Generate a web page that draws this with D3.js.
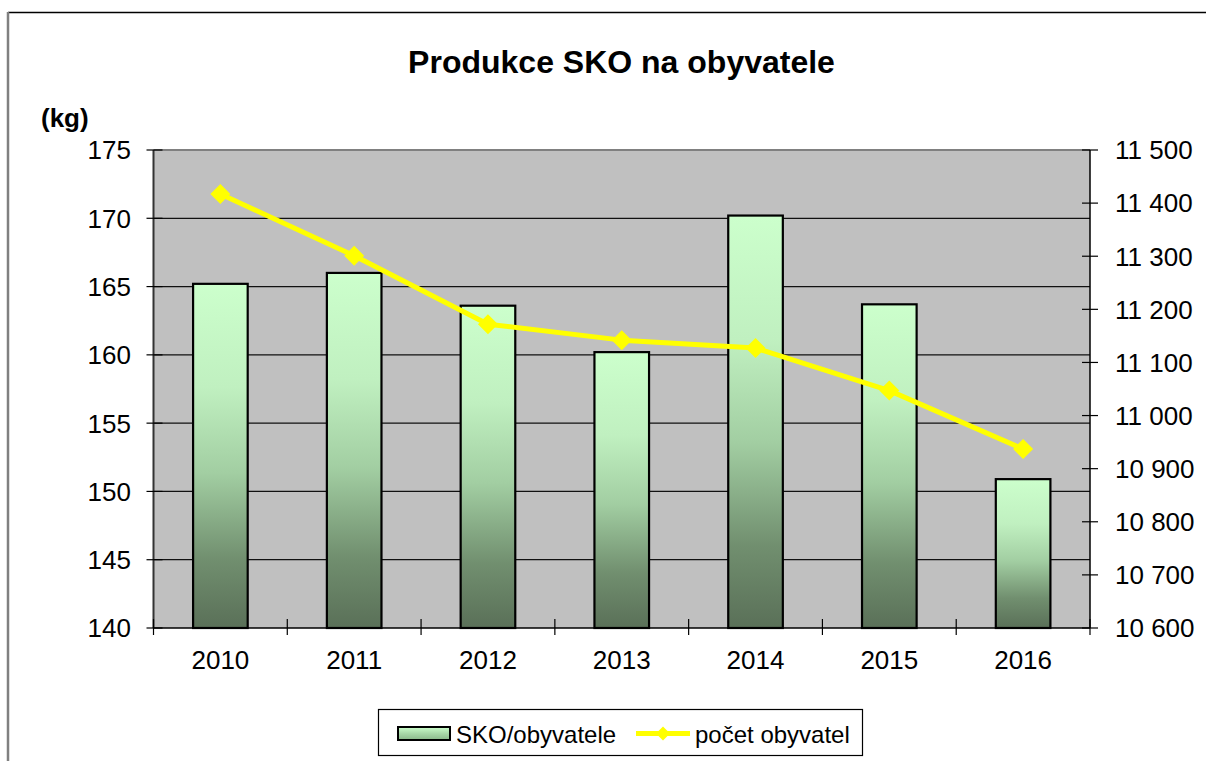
<!DOCTYPE html>
<html><head><meta charset="utf-8">
<script src="https://cdn.jsdelivr.net/npm/d3@7"></script>
<style>body{margin:0;background:#fff}svg{display:block;font-family:"Liberation Sans",Arial,sans-serif}</style>
</head><body>
<script>
const years = ["2010","2011","2012","2013","2014","2015","2016"];
const skoPerCapita = [165.2, 166.0, 163.6, 160.2, 170.2, 163.7, 150.9];
const population = [11417, 11301, 11172, 11142, 11127, 11047, 10937];
const leftTicks = [140,145,150,155,160,165,170,175];
const rightTicks = [10600,10700,10800,10900,11000,11100,11200,11300,11400,11500];

const W=1206,H=761;
const svg=d3.select("body").append("svg").attr("width",W).attr("height",H);
const m={l:153.5,r:1090,t:150,b:628};

// outer border
svg.append("line").attr("x1",8).attr("x2",W).attr("y1",12.5).attr("y2",12.5).attr("stroke","#000").attr("stroke-width",1.5);
svg.append("line").attr("x1",8).attr("x2",8).attr("y1",12).attr("y2",H).attr("stroke","#808080").attr("stroke-width",2.5);

const defs=svg.append("defs");
const g=defs.append("linearGradient").attr("id","barg").attr("x1",0).attr("y1",0).attr("x2",0).attr("y2",1);
[[0,"#ccffcc"],[0.3,"#c0f0c0"],[0.55,"#a2cea2"],[0.8,"#718f6f"],[1,"#5a7058"]].forEach(s=>g.append("stop").attr("offset",s[0]).attr("stop-color",s[1]));

const x=d3.scaleBand().domain(years).range([m.l,m.r]).paddingInner(0).paddingOuter(0);
const yL=d3.scaleLinear().domain([140,175]).range([m.b,m.t]);
const yR=d3.scaleLinear().domain([10600,11500]).range([m.b,m.t]);

svg.append("rect").attr("x",m.l).attr("y",m.t).attr("width",m.r-m.l).attr("height",m.b-m.t).attr("fill","#c0c0c0");
svg.append("line").attr("x1",m.l).attr("x2",m.r).attr("y1",m.t).attr("y2",m.t).attr("stroke","#808080").attr("stroke-width",2);

// gridlines
svg.append("g").selectAll("line").data(leftTicks.slice(1,-1)).join("line")
 .attr("x1",m.l).attr("x2",m.r).attr("y1",d=>yL(d)).attr("y2",d=>yL(d)).attr("stroke","#111").attr("stroke-width",1.2);

// bars
const bw=x.bandwidth()/2.45;
svg.append("g").selectAll("rect").data(skoPerCapita).join("rect")
 .attr("x",(d,i)=>x(years[i])+x.bandwidth()/2-bw/2).attr("width",bw)
 .attr("y",d=>yL(d)).attr("height",d=>yL(140)-yL(d))
 .attr("fill","url(#barg)").attr("stroke","#000").attr("stroke-width",2.2);

// axes
const fmt=d=>d3.format(",")(d).replace(",","\u00a0");
const ax=svg.append("g").attr("font-size",26).attr("fill","#000");
ax.append("line").attr("x1",m.l).attr("x2",m.l).attr("y1",m.t).attr("y2",m.b).attr("stroke","#333").attr("stroke-width",2);
ax.append("line").attr("x1",m.r).attr("x2",m.r).attr("y1",m.t).attr("y2",m.b).attr("stroke","#000").attr("stroke-width",1.5);
ax.append("line").attr("x1",m.l).attr("x2",m.r).attr("y1",m.b).attr("y2",m.b).attr("stroke","#000").attr("stroke-width",1.5);
leftTicks.forEach(t=>{
 ax.append("line").attr("x1",m.l-7).attr("x2",m.l+9).attr("y1",yL(t)).attr("y2",yL(t)).attr("stroke","#000").attr("stroke-width",1.2);
 ax.append("text").attr("x",131).attr("y",yL(t)).attr("dy","0.36em").attr("text-anchor","end").text(t);
});
rightTicks.forEach(t=>{
 ax.append("line").attr("x1",m.r-8).attr("x2",m.r+8).attr("y1",yR(t)).attr("y2",yR(t)).attr("stroke","#000").attr("stroke-width",1.2);
 ax.append("text").attr("x",1115).attr("y",yR(t)).attr("dy","0.36em").attr("text-anchor","start").text(fmt(t));
});
years.forEach((yv,i)=>{
 const bx=x(yv);
 ax.append("line").attr("x1",bx).attr("x2",bx).attr("y1",m.b-9).attr("y2",m.b+7).attr("stroke","#000").attr("stroke-width",1.2);
 ax.append("text").attr("x",bx+x.bandwidth()/2).attr("y",660).attr("dy","0.36em").attr("text-anchor","middle").text(yv);
});
ax.append("line").attr("x1",m.r).attr("x2",m.r).attr("y1",m.b-9).attr("y2",m.b+7).attr("stroke","#000").attr("stroke-width",1.2);

// line
const line=d3.line().x((d,i)=>x(years[i])+x.bandwidth()/2).y(d=>yR(d));
svg.append("path").datum(population).attr("d",line).attr("fill","none").attr("stroke","#ffff00").attr("stroke-width",5).attr("stroke-linejoin","round");
const dia="M0,-10L10,0L0,10L-10,0Z";
svg.append("g").selectAll("path").data(population).join("path")
 .attr("transform",(d,i)=>`translate(${x(years[i])+x.bandwidth()/2},${yR(d)})`).attr("d",dia).attr("fill","#ffff00");

// title
svg.append("text").attr("x",621.5).attr("y",73).attr("text-anchor","middle").attr("font-size",32).attr("font-weight","bold").text("Produkce SKO na obyvatele");
svg.append("text").attr("x",41).attr("y",127).attr("font-size",26).attr("font-weight","bold").text("(kg)");

// legend
const lg=svg.append("g");
lg.append("rect").attr("x",378.5).attr("y",709.5).attr("width",484).attr("height",46).attr("fill","#fff").attr("stroke","#000").attr("stroke-width",1.2);
const lgg=defs.append("linearGradient").attr("id","lgg").attr("x1",0).attr("y1",0).attr("x2",0).attr("y2",1);
[[0,"#ccffcc"],[0.5,"#a8d8a8"],[1,"#8ab88a"]].forEach(s=>lgg.append("stop").attr("offset",s[0]).attr("stop-color",s[1]));
lg.append("rect").attr("x",398).attr("y",727).attr("width",52).attr("height",13).attr("fill","url(#lgg)").attr("stroke","#000").attr("stroke-width",2);
lg.append("text").attr("x",456).attr("y",734).attr("dy","0.36em").attr("font-size",24).text("SKO/obyvatele");
lg.append("line").attr("x1",636).attr("x2",690).attr("y1",733.5).attr("y2",733.5).attr("stroke","#ffff00").attr("stroke-width",5);
lg.append("path").attr("transform","translate(663,733.5)").attr("d","M0,-7L7,0L0,7L-7,0Z").attr("fill","#ffff00");
lg.append("text").attr("x",695).attr("y",734).attr("dy","0.36em").attr("font-size",24).text("počet obyvatel");
</script>
</body></html>
